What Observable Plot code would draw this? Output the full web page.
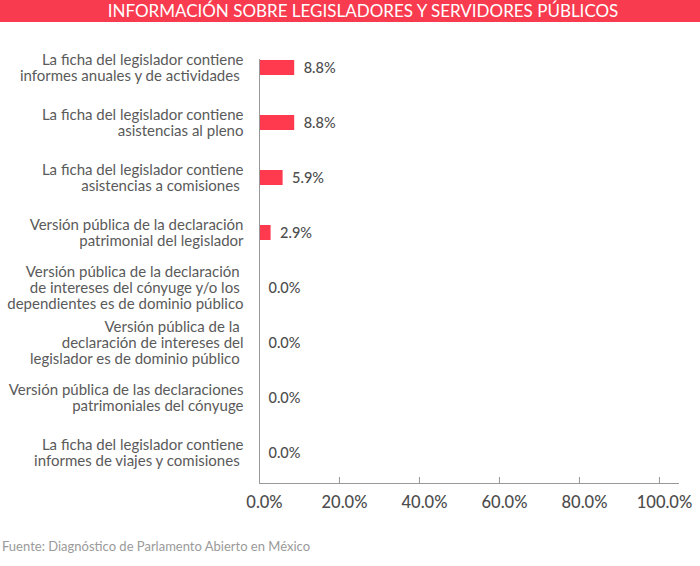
<!DOCTYPE html>
<html><head><meta charset="utf-8">
<script src="https://cdn.jsdelivr.net/npm/d3@7"></script>
<script src="https://cdn.jsdelivr.net/npm/@observablehq/plot@0.6"></script>
<style>
body{margin:0;background:#fff;font-family:Lato,sans-serif;}
#title{height:22px;background:#F93B4F;color:#fff;font-size:17px;line-height:22px;text-align:center;padding-left:26px;box-sizing:border-box;white-space:nowrap;}
#caption{font-size:13px;color:#9a9a9a;padding:6px 0 0 2px;}
</style></head><body>
<div id="title">INFORMACIÓN SOBRE LEGISLADORES Y SERVIDORES PÚBLICOS</div>
<div id="chart"></div>
<div id="caption">Fuente: Diagnóstico de Parlamento Abierto en México</div>
<script>
const categories = [
  "La ficha del legislador contiene\ninformes anuales y de actividades\u00a0",
  "La ficha del legislador contiene\nasistencias al pleno",
  "La ficha del legislador contiene\nasistencias a comisiones\u00a0",
  "Versión pública de la declaración\npatrimonial del legislador",
  "Versión pública de la declaración\u00a0\nde intereses del cónyuge y/o los\u00a0\ndependientes es de dominio público",
  "Versión pública de la\u00a0\ndeclaración de intereses del\nlegislador es de dominio público\u00a0",
  "Versión pública de las declaraciones\npatrimoniales del cónyuge",
  "La ficha del legislador contiene\ninformes de viajes y comisiones\u00a0"
];
const values = [8.8, 8.8, 5.9, 2.9, 0.0, 0.0, 0.0, 0.0];
const xTicks = [0, 20, 40, 60, 80, 100];

const data = categories.map((c, i) => ({category: c, value: values[i]}));
const fmt = d => d.toFixed(1) + "%";

const chart = Plot.plot({
  width: 700, height: 510,
  marginLeft: 259, marginRight: 22, marginTop: 37, marginBottom: 49,
  style: {fontFamily: "Lato, sans-serif", background: "white", overflow: "visible"},
  x: {domain: [0, 104.75]},
  y: {domain: categories, range: [17.5, 457.5], padding: 0},
  marks: [
    Plot.barX(data, {x: "value", y: "category", fill: "#FF3A4E", insetTop: 20, insetBottom: 20}),
    Plot.text(data, {x: "value", y: "category", text: d => fmt(d.value), textAnchor: "start", dx: 9, fontSize: 14.5, fontWeight: 500, fill: "#4d4d4d"}),
    Plot.axisY({tickSize: 0, tickPadding: 16, fontSize: 15, color: "#5a5a5a", lineHeight: 1.07, label: null}),
    Plot.axisX(xTicks, {tickSize: 0, tickPadding: 13, dx: 5, tickFormat: fmt, fontSize: 16.5, fontWeight: 500, color: "#4d4d4d", label: null}),
    Plot.tickX(xTicks.slice(1), {x: d => d, stroke: "#999", insetTop: 418}),
    Plot.frame({anchor: "left", stroke: "#999"}),
    Plot.frame({anchor: "bottom", stroke: "#999"})
  ]
});
document.getElementById("chart").append(chart);
</script>
</body></html>
